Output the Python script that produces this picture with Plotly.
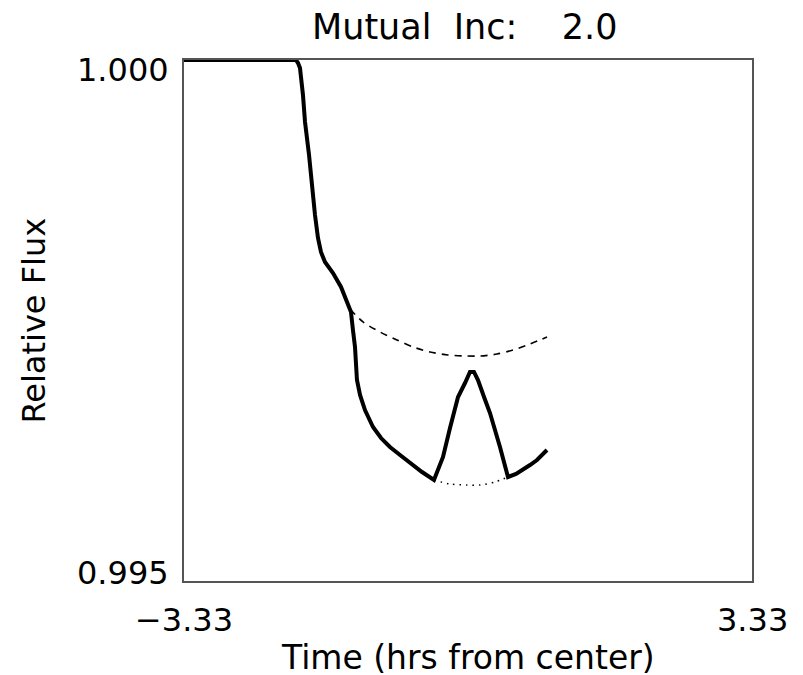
import plotly.graph_objects as go

# Combined light curve (both planets), hours from center vs relative flux
time_total = [-3.33, -2.017, -1.993, -1.970, -1.935, -1.911, -1.864, -1.829, -1.794,
              -1.759, -1.724, -1.677, -1.583, -1.489, -1.407, -1.372, -1.349, -1.325,
              -1.302, -1.266, -1.208, -1.114, -1.020, -0.915, -0.797, -0.680, -0.539,
              -0.399, -0.293, -0.211, -0.117, -0.035, 0.023, 0.070, 0.117, 0.188,
              0.258, 0.375, 0.469, 0.563, 0.645, 0.727, 0.809, 0.926]
flux_total = [1.00000, 1.00000, 0.999971, 0.999923, 0.999664, 0.999405, 0.999088,
              0.998772, 0.998512, 0.998292, 0.998157, 0.998061, 0.997956, 0.997822,
              0.997668, 0.997582, 0.997409, 0.997246, 0.996929, 0.996785, 0.996641,
              0.996478, 0.996372, 0.996286, 0.996209, 0.996132, 0.996046, 0.995969,
              0.996190, 0.996468, 0.996766, 0.996900, 0.997006, 0.997006, 0.996929,
              0.996766, 0.996612, 0.996286, 0.995998, 0.996027, 0.996065, 0.996113,
              0.996161, 0.996257]

# Single-planet curve (dashed)
time_single = [-1.384, -1.231, -1.032, -0.833, -0.645, -0.446, -0.235, -0.012,
               0.141, 0.340, 0.527, 0.727, 0.926]
flux_single = [0.997610, 0.997486, 0.997390, 0.997313, 0.997246, 0.997198, 0.997169,
               0.997159, 0.997159, 0.997178, 0.997217, 0.997274, 0.997342]

# Non-overlapping sum during the mutual event (dotted)
time_sum = [-0.399, -0.211, -0.012, 0.141, 0.316, 0.469]
flux_sum = [0.995969, 0.995931, 0.995921, 0.995921, 0.995950, 0.995998]

x_range = [-3.33, 3.33]
y_range = [0.995, 1.000]
x_tick_vals = [-3.33, 3.33]
x_tick_text = ["\u22123.33", "3.33"]
y_tick_vals = [0.995, 1.000]
y_tick_text = ["0.995", "1.000"]

NB = "\u00a0"
title_text = "Mutual" + NB * 2 + "Inc:" + NB * 4 + "2.0"
x_title = "Time (hrs from center)"
y_title = "Relative Flux"

FONT = "DejaVu Sans"

fig = go.Figure()
fig.add_trace(go.Scatter(x=time_single, y=flux_single, mode="lines",
                         line=dict(color="black", width=1.6, dash="7px,6px",
                                   shape="spline", smoothing=0.8)))
fig.add_trace(go.Scatter(x=time_sum, y=flux_sum, mode="lines",
                         line=dict(color="black", width=1.5, dash="1.5px,5px",
                                   shape="spline", smoothing=0.8)))
fig.add_trace(go.Scatter(x=time_total, y=flux_total, mode="lines",
                         line=dict(color="black", width=4)))

annotations = []
for v, t in zip(x_tick_vals, x_tick_text):
    annotations.append(dict(x=v, y=0, xref="x", yref="paper", text=t, showarrow=False,
                            xanchor="center", yanchor="middle", yshift=-39,
                            font=dict(family=FONT, size=32, color="black")))
y_shifts = {0.995: 8, 1.000: -10}
for v, t in zip(y_tick_vals, y_tick_text):
    annotations.append(dict(x=0, y=v, xref="paper", yref="y", text=t, showarrow=False,
                            xanchor="right", yanchor="middle", xshift=-13,
                            yshift=y_shifts[v],
                            font=dict(family=FONT, size=32, color="black")))
annotations.append(dict(x=0.5, y=0, xref="paper", yref="paper", text=x_title,
                        showarrow=False, xanchor="center", yanchor="middle", yshift=-76,
                        height=36,
                        font=dict(family=FONT, size=33, color="black")))
annotations.append(dict(x=0, y=0.5, xref="paper", yref="paper", text=y_title,
                        showarrow=False, xanchor="center", yanchor="middle",
                        xshift=-151, textangle=-90,
                        font=dict(family=FONT, size=32, color="black")))
annotations.append(dict(x=0.5, y=1, xref="paper", yref="paper", text=title_text,
                        showarrow=False, xanchor="center", yanchor="middle",
                        xshift=-4, yshift=33,
                        font=dict(family=FONT, size=35, color="black")))

axis_common = dict(showgrid=False, zeroline=False, showticklabels=False, ticks="",
                   showline=True, mirror=True, linecolor="#555555", linewidth=2)

fig.update_layout(
    width=803, height=675,
    margin=dict(l=184, r=51, t=60, b=94),
    paper_bgcolor="white", plot_bgcolor="white",
    showlegend=False,
    xaxis=dict(range=x_range, **axis_common),
    yaxis=dict(range=y_range, **axis_common),
    annotations=annotations,
)

fig.write_html("out.html")
